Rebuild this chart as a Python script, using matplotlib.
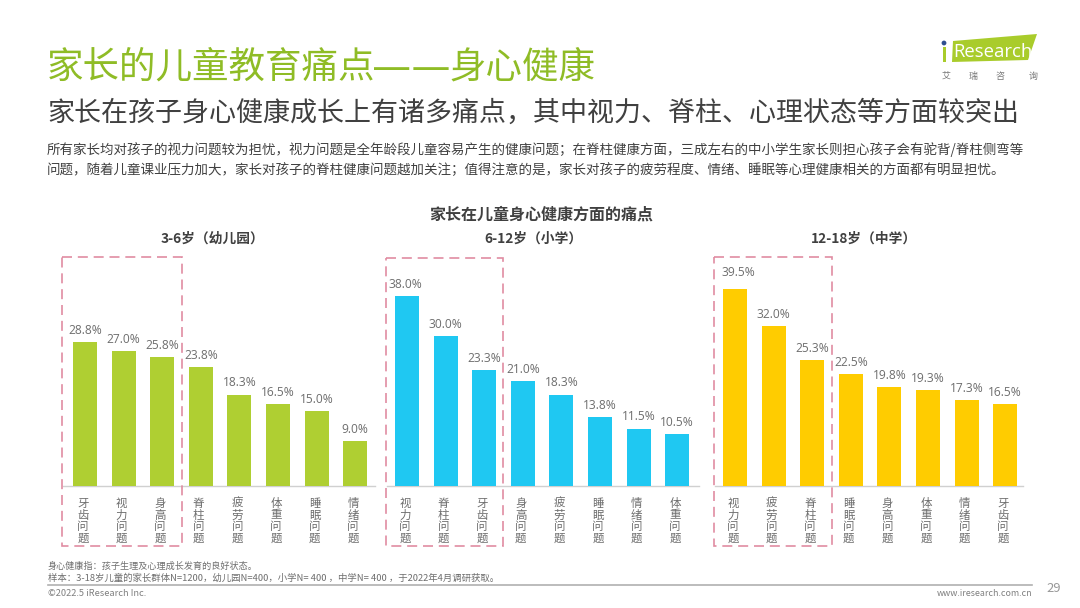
import matplotlib
matplotlib.use("Agg")
import matplotlib.pyplot as plt
from matplotlib.patches import Polygon, Rectangle, Circle
from matplotlib.transforms import ScaledTranslation

plt.rcParams["font.family"] = ["Noto Sans CJK SC", "DejaVu Sans"]

W, H = 1080, 608

# data
cats_kindergarten = ["牙齿问题", "视力问题", "身高问题", "脊柱问题", "疲劳问题", "体重问题", "睡眠问题", "情绪问题"]
vals_kindergarten = [28.8, 27.0, 25.8, 23.8, 18.3, 16.5, 15.0, 9.0]
cats_primary = ["视力问题", "脊柱问题", "牙齿问题", "身高问题", "疲劳问题", "睡眠问题", "情绪问题", "体重问题"]
vals_primary = [38.0, 30.0, 23.3, 21.0, 18.3, 13.8, 11.5, 10.5]
cats_middle = ["视力问题", "疲劳问题", "脊柱问题", "睡眠问题", "身高问题", "体重问题", "情绪问题", "牙齿问题"]
vals_middle = [39.5, 32.0, 25.3, 22.5, 19.8, 19.3, 17.3, 16.5]
panel_titles = ["3-6岁（幼儿园）", "6-12岁（小学）", "12-18岁（中学）"]

GREEN = "#AFCF32"
BLUE = "#1FC8F2"
YELLOW = "#FFCC00"
TITLE_GREEN = "#8FBC26"
DARK = "#404040"
GREY = "#6E6E6E"
PINK = "#E08CA2"

fig = plt.figure(figsize=(W / 100, H / 100), dpi=100, facecolor="white")

# overlay in pixel coordinates for text and decoration
bg = fig.add_axes([0, 0, 1, 1])
bg.set_xlim(0, W)
bg.set_ylim(H, 0)
bg.axis("off")


def px(size):
    return size * 0.72


# title is split so the long dash can be stretched like in the original
bg.text(47, 68, "家长的儿童教育痛点", fontsize=px(36.5), color=TITLE_GREEN, va="center", ha="left")
bg.text(411, 68, "——", fontsize=px(44), color=TITLE_GREEN, va="center", ha="center")
bg.text(449, 68, "身心健康", fontsize=px(36.5), color=TITLE_GREEN, va="center", ha="left")
bg.text(47, 113, "家长在孩子身心健康成长上有诸多痛点，其中视力、脊柱、心理状态等方面较突出",
        fontsize=px(27), color=DARK, va="center", ha="left", fontweight="medium")
bg.text(47, 150, "所有家长均对孩子的视力问题较为担忧，视力问题是全年龄段儿童容易产生的健康问题；在脊柱健康方面，三成左右的中小学生家长则担心孩子会有驼背/脊柱侧弯等",
        fontsize=px(13.5), color=DARK, va="center", ha="left")
bg.text(47, 170, "问题，随着儿童课业压力加大，家长对孩子的脊柱健康问题越加关注；值得注意的是，家长对孩子的疲劳程度、情绪、睡眠等心理健康相关的方面都有明显担忧。",
        fontsize=px(13.5), color=DARK, va="center", ha="left")
bg.text(541, 215, "家长在儿童身心健康方面的痛点", fontsize=px(16), color=DARK, va="center", ha="center", fontweight="bold")

# footer
bg.text(48, 566, "身心健康指：孩子生理及心理成长发育的良好状态。", fontsize=px(9.1), color=GREY, va="center", ha="left")
bg.text(48, 578, "样本：3-18岁儿童的家长群体N=1200，幼儿园N=400，小学N= 400 ，中学N= 400 ，于2022年4月调研获取。",
        fontsize=px(9.4), color=GREY, va="center", ha="left")
bg.plot([48, 1032], [584.5, 584.5], color="#B0B0B0", lw=1.2)
bg.text(48, 593, "©2022.5 iResearch Inc.", fontsize=px(9.3), color="#808080", va="center", ha="left")
bg.text(1032, 593, "www.iresearch.com.cn", fontsize=px(8.9), color="#808080", va="center", ha="right")
bg.text(1061, 589, "29", fontsize=px(13), color="#999999", va="center", ha="right")

# logo
bg.add_patch(Polygon([[953, 41], [1037, 34], [1028, 60], [952, 62]], closed=True, fc="#A9CC2B", ec="none"))
bg.add_patch(Circle((944, 43), 2.4, fc="#2F4E8F", ec="none"))
bg.add_patch(Rectangle((942.5, 47), 3.4, 15, fc="#A9CC2B", ec="none"))
bg.text(953, 52, "Research", fontsize=px(18.5), color="white", va="center", ha="left", family=["Open Sans", "DejaVu Sans"])
for x, ch in zip([946, 973, 1000, 1033], "艾瑞咨询"):
    bg.text(x, 76, ch, fontsize=px(9), color="#777777", va="center", ha="center")

# dashed boxes around the top three
for x0, x1, y0, y1 in [(62, 182, 257, 546), (386, 503, 258, 546), (714, 832, 257, 546)]:
    bg.add_patch(Rectangle((x0, y0), x1 - x0, y1 - y0, fill=False, ec=PINK, lw=1.2, ls=(0, (6, 3.5)), zorder=5))

BASE_Y = 486
TOP_Y = 250
PX_PER_UNIT = 5.0
STEP = 38.6


def draw_panel(first_center, cats, vals, color, title, title_x, base_left, base_right, first_label=(0, 5)):
    left = first_center - STEP / 2
    width = STEP * len(cats)
    ax = fig.add_axes([left / W, (H - BASE_Y) / H, width / W, (BASE_Y - TOP_Y) / H])
    ax.patch.set_alpha(0)
    ax.bar(range(len(cats)), vals, width=0.62, color=color, zorder=2)
    ax.set_xlim(-0.5, len(cats) - 0.5)
    ax.set_ylim(0, (BASE_Y - TOP_Y) / PX_PER_UNIT)
    for i, v in enumerate(vals):
        off = first_label if i == 0 else (0, 5)
        ax.annotate(f"{v:.1f}%", (i, v), xytext=off, textcoords="offset pixels", ha="center", va="bottom",
                    fontsize=px(12), color=GREY, family=["Open Sans", "DejaVu Sans"], annotation_clip=False)
    ax.set_xticks(range(len(cats)))
    ax.set_xticklabels(["\n".join(c) for c in cats], fontsize=px(11.5), color=GREY, linespacing=0.84)
    ax.tick_params(axis="x", length=0, pad=8)
    # labels sit slightly left of the bars in the original
    shift = ScaledTranslation(-2 / 100, 0, fig.dpi_scale_trans)
    for lab in ax.get_xticklabels():
        lab.set_transform(lab.get_transform() + shift)
    ax.set_yticks([])
    for s in ax.spines.values():
        s.set_visible(False)
    bg.plot([base_left, base_right], [BASE_Y, BASE_Y], color="#D0D0D0", lw=1)
    bg.text(title_x, 239, title, fontsize=px(13.7), color=DARK, va="center", ha="center", fontweight="bold")


draw_panel(85, cats_kindergarten, vals_kindergarten, GREEN, panel_titles[0], 212, 63, 375)
draw_panel(407, cats_primary, vals_primary, BLUE, panel_titles[1], 533, 387, 699, first_label=(-2, 5))
draw_panel(735, cats_middle, vals_middle, YELLOW, panel_titles[2], 864, 715, 1023, first_label=(3, 10))

fig.savefig("out.png", dpi=100)
